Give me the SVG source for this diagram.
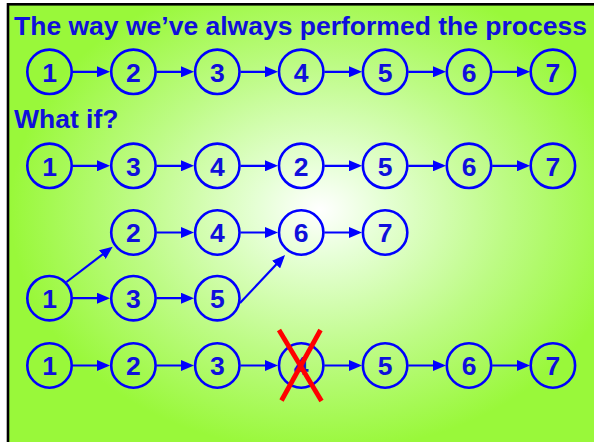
<svg xmlns="http://www.w3.org/2000/svg" width="594" height="442" viewBox="0 0 594 442">
<defs>
<radialGradient id="bg" gradientUnits="userSpaceOnUse" cx="320" cy="210" r="310" gradientTransform="translate(320 210) scale(1 0.78) translate(-320 -210)">
<stop offset="0" stop-color="#ffffff"/>
<stop offset="0.2" stop-color="#e6ffd6"/>
<stop offset="0.6" stop-color="#bdfb85"/>
<stop offset="1" stop-color="#99f83a"/>
</radialGradient>
<marker id="ah" markerUnits="userSpaceOnUse" markerWidth="13" markerHeight="11" refX="10" refY="5.5" orient="auto">
<path d="M0,0 L13,5.5 L0,11 z" fill="#0000ff"/>
</marker>
<style>
.n circle{fill:none;stroke:#0000ff;stroke-width:2.6}
.n text{font-family:"Liberation Sans",Arial,sans-serif;font-weight:bold;font-size:26.5px;fill:#0f0fdc;text-anchor:middle}
.t{font-family:"Liberation Sans",Arial,sans-serif;font-weight:bold;font-size:26.5px;fill:#0f0fdc}
#connectors line{stroke:#0000ff;stroke-width:2.2;marker-end:url(#ah)}
.x{stroke:#ff0000;stroke-width:4.8}
</style>
</defs>
<rect x="0" y="0" width="594" height="442" fill="#ffffff"/>
<rect x="8" y="4.3" width="600" height="450" fill="url(#bg)" stroke="#000000" stroke-width="2.6"/>
<text class="t" x="14" y="34.5" textLength="573" lengthAdjust="spacingAndGlyphs">The way we’ve always performed the process</text>
<text class="t" x="14" y="128">What if?</text>

<g id="connectors">
<!-- row 1 -->
<line x1="72.7" y1="71.8" x2="107" y2="71.8"/>
<line x1="156.6" y1="71.8" x2="191" y2="71.8"/>
<line x1="240.5" y1="71.8" x2="275" y2="71.8"/>
<line x1="324.4" y1="71.8" x2="359" y2="71.8"/>
<line x1="408.3" y1="71.8" x2="443" y2="71.8"/>
<line x1="492.2" y1="71.8" x2="527" y2="71.8"/>
<!-- row 2 -->
<line x1="72.7" y1="165.8" x2="107" y2="165.8"/>
<line x1="156.6" y1="165.8" x2="191" y2="165.8"/>
<line x1="240.5" y1="165.8" x2="275" y2="165.8"/>
<line x1="324.4" y1="165.8" x2="359" y2="165.8"/>
<line x1="408.3" y1="165.8" x2="443" y2="165.8"/>
<line x1="492.2" y1="165.8" x2="527" y2="165.8"/>
<!-- row 3 -->
<line x1="156.6" y1="232.5" x2="191" y2="232.5"/>
<line x1="240.5" y1="232.5" x2="275" y2="232.5"/>
<line x1="324.4" y1="232.5" x2="359" y2="232.5"/>
<!-- row 4 -->
<line x1="72.7" y1="298.2" x2="107" y2="298.2"/>
<line x1="156.6" y1="298.2" x2="191" y2="298.2"/>
<line x1="66.5" y1="282" x2="110.3" y2="248.5"/>
<line x1="240" y1="303" x2="283" y2="257.3"/>
<!-- row 5 -->
<line x1="72.7" y1="365.5" x2="107" y2="365.5"/>
<line x1="156.6" y1="365.5" x2="191" y2="365.5"/>
<line x1="240.5" y1="365.5" x2="275" y2="365.5"/>
<line x1="324.4" y1="365.5" x2="359" y2="365.5"/>
<line x1="408.3" y1="365.5" x2="443" y2="365.5"/>
<line x1="492.2" y1="365.5" x2="527" y2="365.5"/>
</g>

<!-- row 1 -->
<g id="r1n1" class="n"><circle cx="49.5" cy="71.8" r="22.2"/><text x="49.5" y="81.5">1</text></g>
<g id="r1n2" class="n"><circle cx="133.4" cy="71.8" r="22.2"/><text x="133.4" y="81.5">2</text></g>
<g id="r1n3" class="n"><circle cx="217.3" cy="71.8" r="22.2"/><text x="217.3" y="81.5">3</text></g>
<g id="r1n4" class="n"><circle cx="301.2" cy="71.8" r="22.2"/><text x="301.2" y="81.5">4</text></g>
<g id="r1n5" class="n"><circle cx="385.1" cy="71.8" r="22.2"/><text x="385.1" y="81.5">5</text></g>
<g id="r1n6" class="n"><circle cx="469" cy="71.8" r="22.2"/><text x="469" y="81.5">6</text></g>
<g id="r1n7" class="n"><circle cx="552.9" cy="71.8" r="22.2"/><text x="552.9" y="81.5">7</text></g>
<!-- row 2 -->
<g id="r2n1" class="n"><circle cx="49.5" cy="165.8" r="22.2"/><text x="49.5" y="175.5">1</text></g>
<g id="r2n3" class="n"><circle cx="133.4" cy="165.8" r="22.2"/><text x="133.4" y="175.5">3</text></g>
<g id="r2n4" class="n"><circle cx="217.3" cy="165.8" r="22.2"/><text x="217.3" y="175.5">4</text></g>
<g id="r2n2" class="n"><circle cx="301.2" cy="165.8" r="22.2"/><text x="301.2" y="175.5">2</text></g>
<g id="r2n5" class="n"><circle cx="385.1" cy="165.8" r="22.2"/><text x="385.1" y="175.5">5</text></g>
<g id="r2n6" class="n"><circle cx="469" cy="165.8" r="22.2"/><text x="469" y="175.5">6</text></g>
<g id="r2n7" class="n"><circle cx="552.9" cy="165.8" r="22.2"/><text x="552.9" y="175.5">7</text></g>
<!-- row 3 -->
<g id="r3n2" class="n"><circle cx="133.4" cy="232.5" r="22.2"/><text x="133.4" y="242.2">2</text></g>
<g id="r3n4" class="n"><circle cx="217.3" cy="232.5" r="22.2"/><text x="217.3" y="242.2">4</text></g>
<g id="r3n6" class="n"><circle cx="301.2" cy="232.5" r="22.2"/><text x="301.2" y="242.2">6</text></g>
<g id="r3n7" class="n"><circle cx="385.1" cy="232.5" r="22.2"/><text x="385.1" y="242.2">7</text></g>
<!-- row 4 -->
<g id="r4n1" class="n"><circle cx="49.5" cy="298.2" r="22.2"/><text x="49.5" y="307.9">1</text></g>
<g id="r4n3" class="n"><circle cx="133.4" cy="298.2" r="22.2"/><text x="133.4" y="307.9">3</text></g>
<g id="r4n5" class="n"><circle cx="217.3" cy="298.2" r="22.2"/><text x="217.3" y="307.9">5</text></g>
<!-- row 5 -->
<g id="r5n1" class="n"><circle cx="49.5" cy="365.5" r="22.2"/><text x="49.5" y="375.2">1</text></g>
<g id="r5n2" class="n"><circle cx="133.4" cy="365.5" r="22.2"/><text x="133.4" y="375.2">2</text></g>
<g id="r5n3" class="n"><circle cx="217.3" cy="365.5" r="22.2"/><text x="217.3" y="375.2">3</text></g>
<g id="r5n4" class="n"><circle cx="301.2" cy="365.5" r="22.2"/><text x="301.2" y="375.2">4</text>
<line class="x" x1="279" y1="330" x2="321.5" y2="401"/>
<line class="x" x1="320.5" y1="330" x2="281.5" y2="400.5"/>
</g>
<g id="r5n5" class="n"><circle cx="385.1" cy="365.5" r="22.2"/><text x="385.1" y="375.2">5</text></g>
<g id="r5n6" class="n"><circle cx="469" cy="365.5" r="22.2"/><text x="469" y="375.2">6</text></g>
<g id="r5n7" class="n"><circle cx="552.9" cy="365.5" r="22.2"/><text x="552.9" y="375.2">7</text></g>
</svg>
